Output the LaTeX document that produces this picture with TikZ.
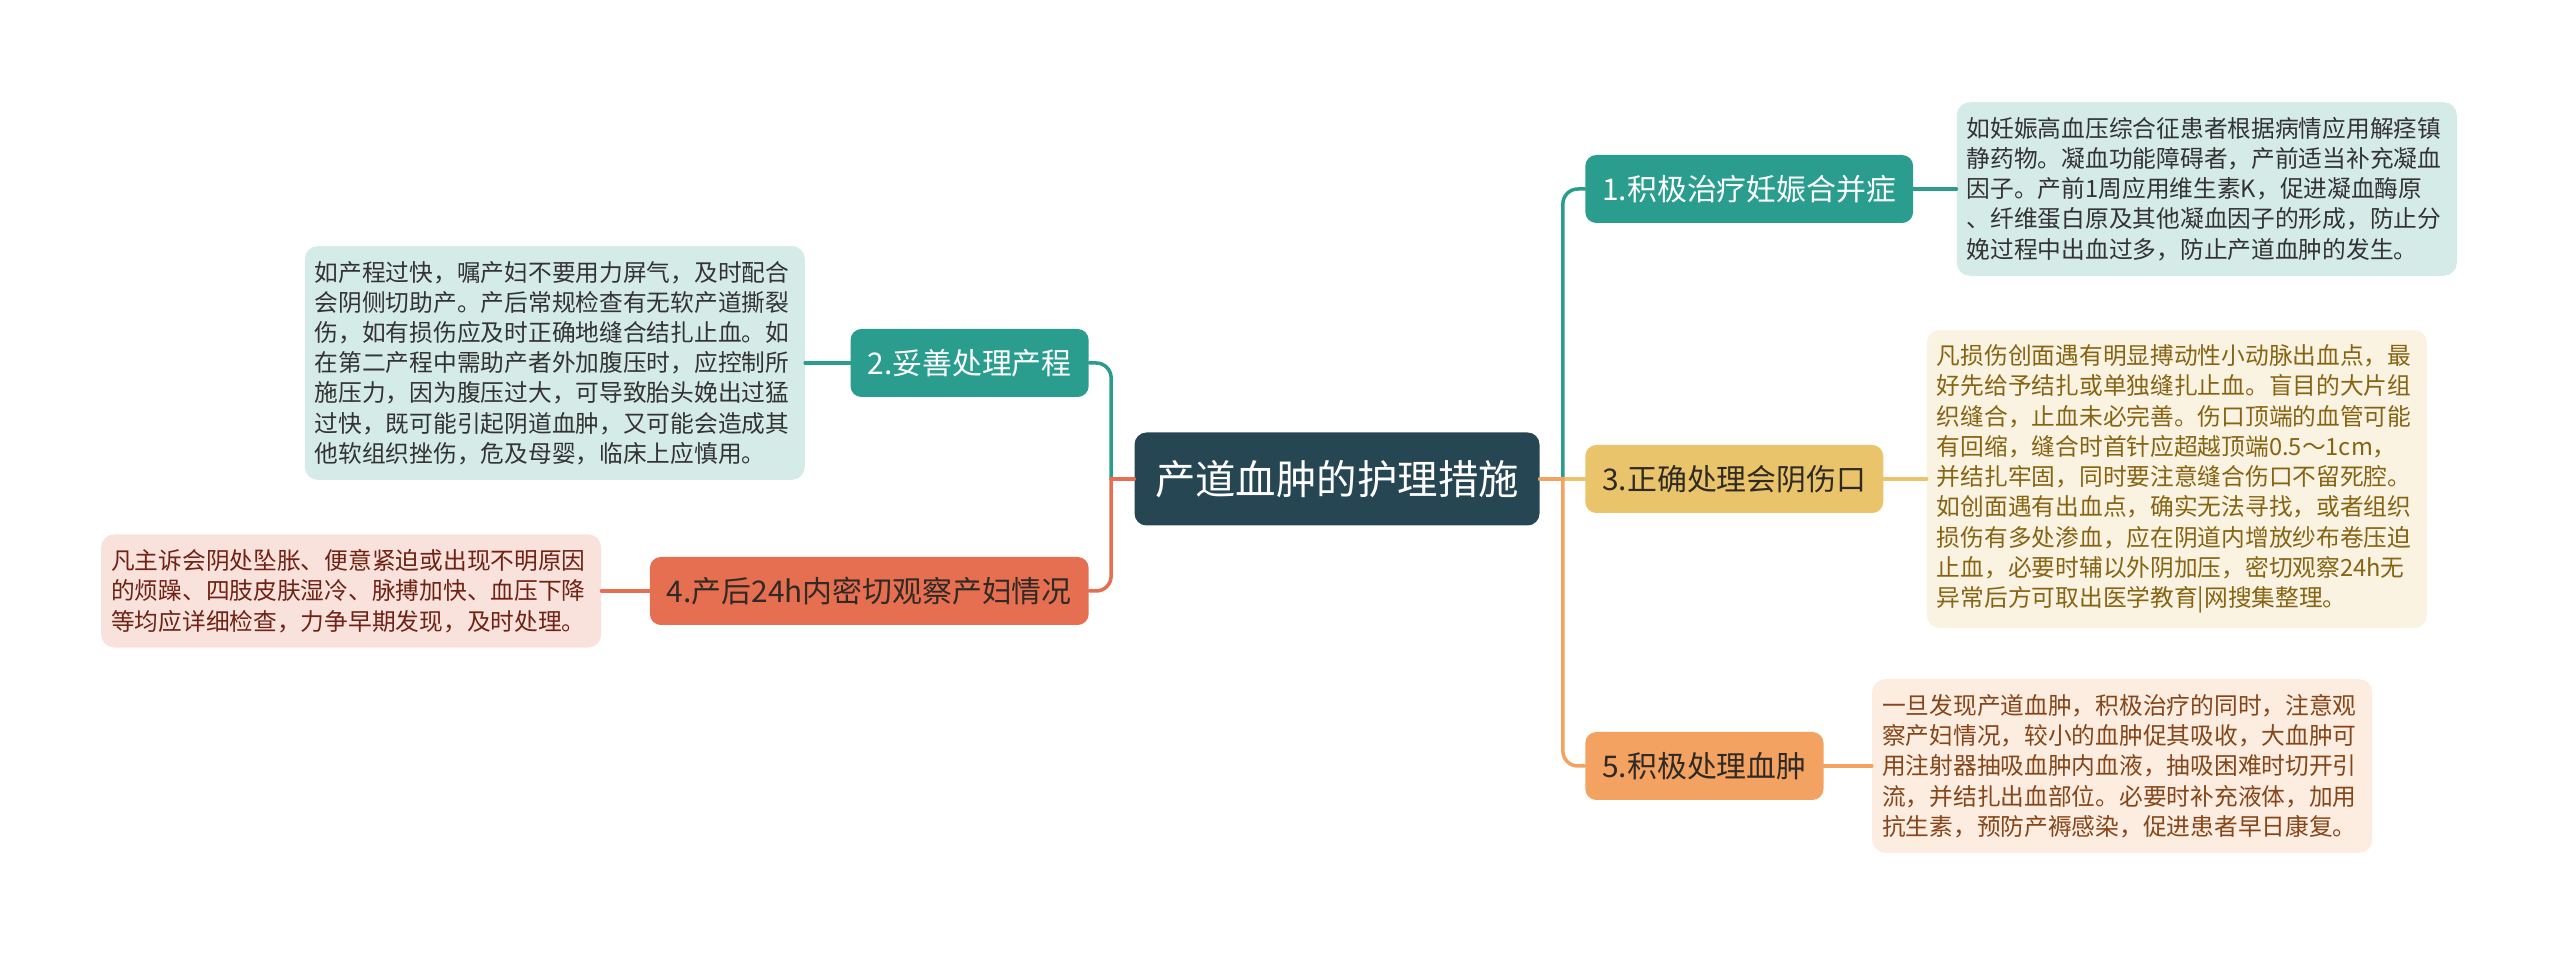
\documentclass[tikz,border=0pt]{standalone}
\usepackage{fontspec}
\setmainfont{Noto Sans CJK SC}
\usetikzlibrary{positioning}
\definecolor{rootfill}{HTML}{264653}
\definecolor{teal1}{HTML}{2A9D8F}
\definecolor{yel1}{HTML}{E9C46A}
\definecolor{ora1}{HTML}{F4A261}
\definecolor{red1}{HTML}{E76F51}
\definecolor{tealbg}{HTML}{D5EBE8}
\definecolor{yelbg}{HTML}{FAF3E2}
\definecolor{redbg}{HTML}{FAE2DC}
\definecolor{orabg}{HTML}{FDECE0}
\definecolor{darktext}{HTML}{2F2A24}
\definecolor{yeltext}{HTML}{866414}
\definecolor{redtext}{HTML}{6E2314}
\definecolor{oratext}{HTML}{84461A}

\begin{document}
\begin{tikzpicture}[
		rootbox/.style={fill=rootfill,text=white,rounded corners=0.24cm,minimum width=8.1cm,minimum height=1.86cm,font=\fontsize{23}{28}\selectfont},
		branch/.style={rounded corners=0.22cm,inner xsep=0.34cm,minimum height=1.36cm,font=\fontsize{17}{20}\selectfont},
		note/.style={rounded corners=0.26cm,text width=9.6cm,align=left,inner xsep=0.2cm,inner ysep=0.3cm,font=\fontsize{13.5}{17.2}\selectfont},
		link/.style={line width=2pt,line cap=round}]
		\useasboundingbox (0,0) rectangle (51.2,19.12);
		\node [rootbox] (R) at (26.74,9.54) {产道血肿的护理措施};
		\node [branch,fill=teal1,text=white,anchor=west] (B1) at (31.7,15.34) {1.积极治疗妊娠合并症};
		\node [branch,fill=teal1,text=white,anchor=east] (B2) at (21.78,11.86) {2.妥善处理产程};
		\node [branch,fill=yel1,text=darktext,anchor=west] (B3) at (31.7,9.54) {3.正确处理会阴伤口};
		\node [branch,fill=red1,text=darktext,anchor=east] (B4) at (21.78,7.3) {4.产后24h内密切观察产妇情况};
		\node [branch,fill=ora1,text=darktext,anchor=west] (B5) at (31.7,3.8) {5.积极处理血肿};
		\node [note,fill=tealbg,text=black!80,right=0.86cm of B1] (D1) {如妊娠高血压综合征患者根据病情应用解痉镇\\静药物。凝血功能障碍者，产前适当补充凝血\\因子。产前1周应用维生素K，促进凝血酶原\\、纤维蛋白原及其他凝血因子的形成，防止分\\娩过程中出血过多，防止产道血肿的发生。};
		\node [note,fill=tealbg,text=black!80,left=0.9cm of B2] (D2) {如产程过快，嘱产妇不要用力屏气，及时配合\\会阴侧切助产。产后常规检查有无软产道撕裂\\伤，如有损伤应及时正确地缝合结扎止血。如\\在第二产程中需助产者外加腹压时，应控制所\\施压力，因为腹压过大，可导致胎头娩出过猛\\过快，既可能引起阴道血肿，又可能会造成其\\他软组织挫伤，危及母婴，临床上应慎用。};
		\node [note,fill=yelbg,text=yeltext,right=0.86cm of B3] (D3) {凡损伤创面遇有明显搏动性小动脉出血点，最\\好先给予结扎或单独缝扎止血。盲目的大片组\\织缝合，止血未必完善。伤口顶端的血管可能\\有回缩，缝合时首针应超越顶端0.5～1cm，\\并结扎牢固，同时要注意缝合伤口不留死腔。\\如创面遇有出血点，确实无法寻找，或者组织\\损伤有多处渗血，应在阴道内增放纱布卷压迫\\止血，必要时辅以外阴加压，密切观察24h无\\异常后方可取出医学教育|网搜集整理。};
		\node [note,fill=redbg,text=redtext,left=0.96cm of B4] (D4) {凡主诉会阴处坠胀、便意紧迫或出现不明原因\\的烦躁、四肢皮肤湿冷、脉搏加快、血压下降\\等均应详细检查，力争早期发现，及时处理。};
		\node [note,fill=orabg,text=oratext,right=0.96cm of B5] (D5) {一旦发现产道血肿，积极治疗的同时，注意观\\察产妇情况，较小的血肿促其吸收，大血肿可\\用注射器抽吸血肿内血液，抽吸困难时切开引\\流，并结扎出血部位。必要时补充液体，加用\\抗生素，预防产褥感染，促进患者早日康复。};
		\coordinate [right=0.46cm of R] (jr);
		\coordinate [left=0.46cm of R] (jl);
		\draw [link,draw=teal1] (R.east) -- (jr);
		\draw [link,draw=teal1,rounded corners=0.3cm] (jr) |- (B1.west);
		\draw [link,draw=yel1] (R.east) -- (B3.west);
		\draw [link,draw=ora1] (R.east) -- (jr);
		\draw [link,draw=ora1,rounded corners=0.3cm] (jr) |- (B5.west);
		\draw [link,draw=teal1] (R.west) -- (jl);
		\draw [link,draw=teal1,rounded corners=0.3cm] (jl) |- (B2.east);
		\draw [link,draw=red1] (R.west) -- (jl);
		\draw [link,draw=red1,rounded corners=0.3cm] (jl) |- (B4.east);
		\draw [link,draw=teal1] (B1) -- (D1);
		\draw [link,draw=teal1] (B2) -- (D2);
		\draw [link,draw=yel1] (B3) -- (D3);
		\draw [link,draw=red1] (B4) -- (D4);
		\draw [link,draw=ora1] (B5) -- (D5);
	\end{tikzpicture}
\end{document}
